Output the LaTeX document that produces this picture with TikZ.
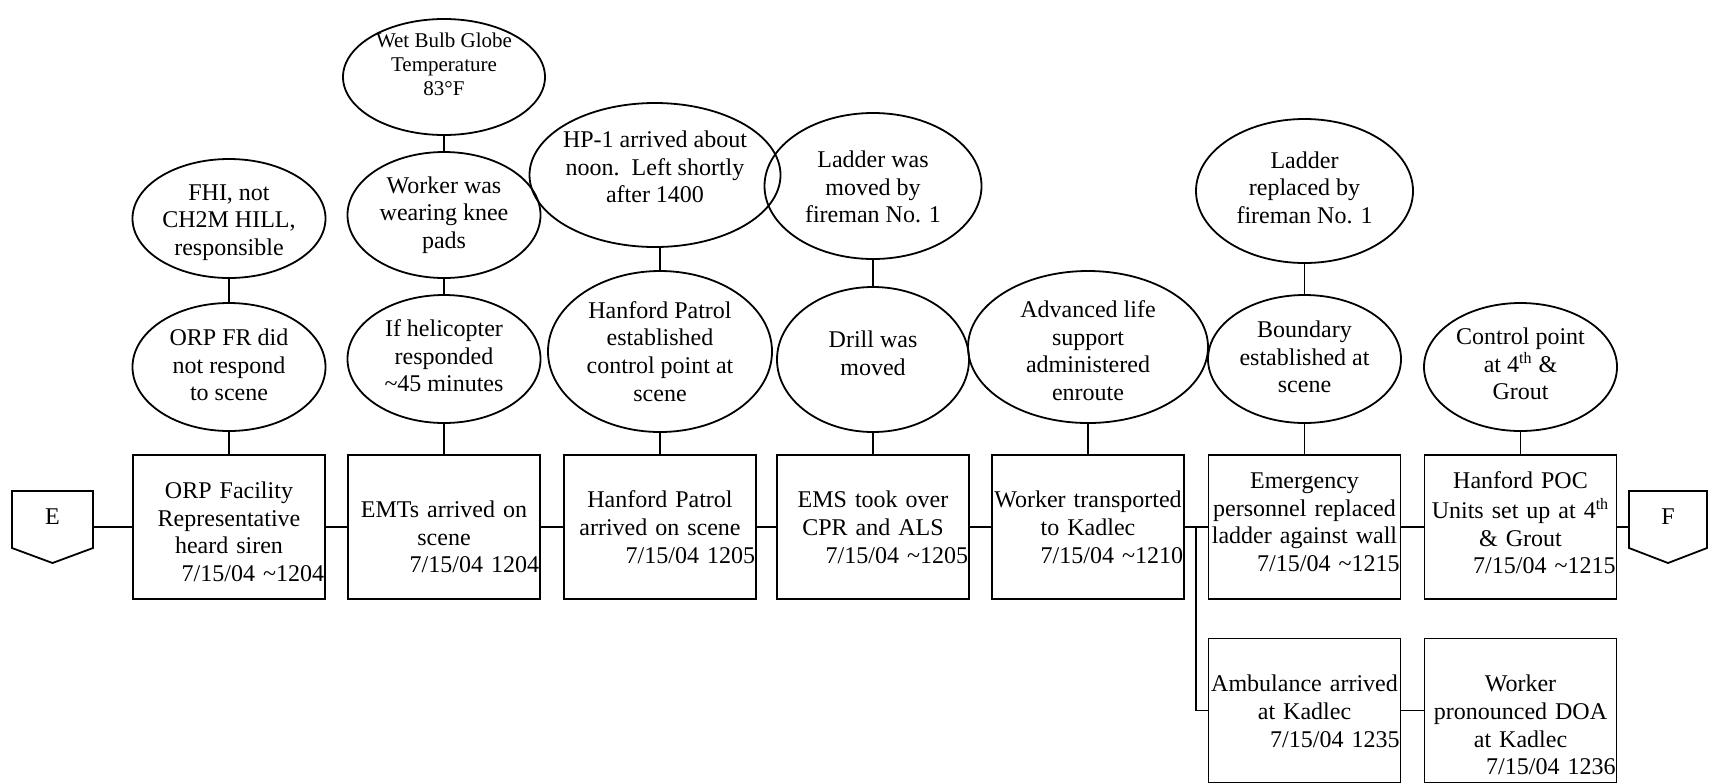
\documentclass[tikz,border=0pt]{standalone}
\usepackage{fontspec}
\setmainfont{Liberation Serif}
\usetikzlibrary{shapes.geometric}

% date stamp pushed to the right edge of an event box
\newcommand\evdate[1]{\hspace*{\fill}#1}
\newcommand\tld{\textasciitilde}

\tikzset{
  ln/.style={line width=0.9pt},
  evbox/.style={draw, line width=0.9pt, minimum width=96pt, minimum height=72pt, inner sep=0pt, outer sep=0pt},
  evtext/.style={font=\fontsize{12}{13.85}\selectfont, align=center, text width=95pt, inner sep=0pt, anchor=north},
  note/.style={draw, ellipse, line width=0.9pt, inner sep=0pt, outer sep=0pt},
  notetext/.style={align=center, inner sep=0pt, font=\fontsize{12}{13.85}\selectfont},
  conntext/.style={font=\fontsize{12}{13.85}\selectfont, inner sep=0pt},
  connshape/.style={minimum width=40.5pt, minimum height=36pt, inner sep=0pt, outer sep=0pt},
}

\begin{document}
\begin{tikzpicture}[x=0.5pt, y=-0.5pt]
\useasboundingbox (0,0) rectangle (1712,783);

% ---------- off-page connectors ----------
\node[connshape] (E) at (52.5,527) {};
\draw[ln] (E.north west) -- (E.north east) -- ([yshift=7.5pt]E.south east) -- (E.south)
  -- ([yshift=7.5pt]E.south west) -- cycle;
\node[conntext] (Elbl) at (52.5,517) {E};

\node[connshape, minimum width=39pt] (F) at (1668,527) {};
\draw[ln] (F.north west) -- (F.north east) -- ([yshift=7.5pt]F.south east) -- (F.south)
  -- ([yshift=7.5pt]F.south west) -- cycle;
\node[conntext] (Flbl) at (1668,517) {F};

% ---------- event boxes ----------
\node[evbox] (b1) at (229,527) {};
\node[evbox] (b2) at (444,527) {};
\node[evbox] (b3) at (660,527) {};
\node[evbox] (b4) at (873,527) {};
\node[evbox] (b5) at (1088,527) {};
\node[evbox] (b6) at (1304.5,527) {};
\node[evbox] (b7) at (1520.5,527) {};
\node[evbox] (b8) at (1304.5,710.5) {};
\node[evbox] (b9) at (1520.5,710.5) {};

\node[evtext] (t1) at ([yshift=-11.75pt]b1.north) {\strut ORP Facility\\Representative\\heard siren\\\evdate{7/15/04 \tld1204}};
\node[evtext] (t2) at ([yshift=-21.25pt]b2.north) {\strut EMTs arrived on\\scene\\\evdate{7/15/04 1204}};
\node[evtext] (t3) at ([yshift=-16.5pt]b3.north) {\strut Hanford Patrol\\arrived on scene\\\evdate{7/15/04 1205}};
\node[evtext] (t4) at ([yshift=-16.5pt]b4.north) {\strut EMS took over\\CPR and ALS\\\evdate{7/15/04 \tld1205}};
\node[evtext] (t5) at ([yshift=-16.5pt]b5.north) {\strut Worker transported\\to Kadlec\\\evdate{7/15/04 \tld1210}};
\node[evtext] (t6) at ([yshift=-6.75pt]b6.north) {\strut Emergency\\personnel replaced\\ladder against wall\\\evdate{7/15/04 \tld1215}};
\node[evtext] (t7) at ([yshift=-6.75pt]b7.north) {\strut Hanford POC\\Units set up at 4\textsuperscript{th}\\\& Grout\\\evdate{7/15/04 \tld1215}};
\node[evtext] (t8) at ([yshift=-16.75pt]b8.north) {\strut Ambulance arrived\\at Kadlec\\\evdate{7/15/04 1235}};
\node[evtext] (t9) at ([yshift=-16.75pt]b9.north) {\strut Worker\\pronounced DOA\\at Kadlec\\\evdate{7/15/04 1236}};

% ---------- notes ----------
\node[note, minimum width=96.5pt, minimum height=59.5pt] (fhi) at (229,218.5) {};
\node[notetext] (fhit) at ([yshift=-2pt]fhi.center) {FHI, not\\CH2M HILL,\\responsible};
\node[note, minimum width=96.5pt, minimum height=64pt] (orpfr) at (229,367) {};
\node[notetext] (orpfrt) at ([yshift=1pt]orpfr.center) {ORP FR did\\not respond\\to scene};

\node[note, minimum width=101pt, minimum height=58pt] (wbgt) at (444,77) {};
\node[notetext, font=\fontsize{10.5}{12}\selectfont] (wbgtt) at ([yshift=6.2pt]wbgt.center) {Wet Bulb Globe\\Temperature\\83°F};
\node[note, minimum width=96.5pt, minimum height=63pt] (knee) at (444,215) {};
\node[notetext] (kneet) at (knee.center) {Worker was\\wearing knee\\pads};
\node[note, minimum width=96.5pt, minimum height=64pt] (heli) at (444,359) {};
\node[notetext] (helit) at ([yshift=1.6pt]heli.center) {If helicopter\\responded\\\tld45 minutes};

\node[note, minimum width=125.5pt, minimum height=72pt] (hp1) at (655,175) {};
\node[notetext] (hp1t) at ([yshift=4.1pt]hp1.center) {HP-1 arrived about\\noon.\ \ Left shortly\\after 1400};
\node[note, minimum width=112pt, minimum height=80.5pt] (hpcp) at (660,351.5) {};
\node[notetext] (hpcpt) at (hpcp.center) {Hanford Patrol\\established\\control point at\\scene};

\node[note, minimum width=108.5pt, minimum height=73pt] (ladmv) at (873,186) {};
\node[notetext] (ladmvt) at ([yshift=-0.5pt]ladmv.center) {Ladder was\\moved by\\fireman No. 1};
\node[note, minimum width=96pt, minimum height=72.5pt] (drill) at (873,359.5) {};
\node[notetext] (drillt) at ([yshift=3pt]drill.center) {Drill was\\moved};

\node[note, minimum width=120pt, minimum height=76pt] (als) at (1088,347) {};
\node[notetext] (alst) at ([yshift=-1.9pt]als.center) {Advanced life\\support\\administered\\enroute};

\node[note, minimum width=108.5pt, minimum height=72pt] (ladrep) at (1304.5,191) {};
\node[notetext] (ladrept) at ([yshift=1.6pt]ladrep.center) {Ladder\\replaced by\\fireman No. 1};
\node[note, minimum width=96.5pt, minimum height=64pt] (bound) at (1304.5,359) {};
\node[notetext] (boundt) at ([yshift=1pt]bound.center) {Boundary\\established at\\scene};

\node[note, minimum width=96.5pt, minimum height=64pt] (ctrl) at (1520.5,367) {};
\node[notetext] (ctrlt) at ([yshift=1.6pt]ctrl.center) {Control point\\at 4\textsuperscript{th} \&\\Grout};

% ---------- timeline connectors ----------
\draw[ln] (E.east) -- (E.east -| b1.west);
\draw[ln] (b1.east) -- (b2.west);
\draw[ln] (b2.east) -- (b3.west);
\draw[ln] (b3.east) -- (b4.west);
\draw[ln] (b4.east) -- (b5.west);
\draw[ln] (b5.east) -- (b6.west);
\draw[ln] (b6.east) -- (b7.west);
\draw[ln] (b7.east) -- (b7.east -| F.west);
\coordinate (split) at (1196,527);
\draw[ln] (split) |- (b8.west);
\draw[ln] (b8.east) -- (b9.west);

% ---------- note connectors ----------
\draw[ln] (orpfr.south) -- (orpfr.south |- b1.north);
\draw[ln] (orpfr.north) -- (orpfr.north |- fhi.south);
\draw[ln] (heli.south) -- (heli.south |- b2.north);
\draw[ln] (heli.north) -- (heli.north |- knee.south);
\draw[ln] (knee.north) -- (knee.north |- wbgt.south);
\draw[ln] (hpcp.south) -- (hpcp.south |- b3.north);
\draw[ln] (hpcp.north) -- (hpcp.north |- hp1.south);
\draw[ln] (drill.south) -- (drill.south |- b4.north);
\draw[ln] (drill.north) -- (drill.north |- ladmv.south);
\draw[ln] (als.south) -- (als.south |- b5.north);
\draw[ln] (bound.south) -- (bound.south |- b6.north);
\draw[ln] (bound.north) -- (bound.north |- ladrep.south);
\draw[ln] (ctrl.south) -- (ctrl.south |- b7.north);
\end{tikzpicture}
\end{document}
